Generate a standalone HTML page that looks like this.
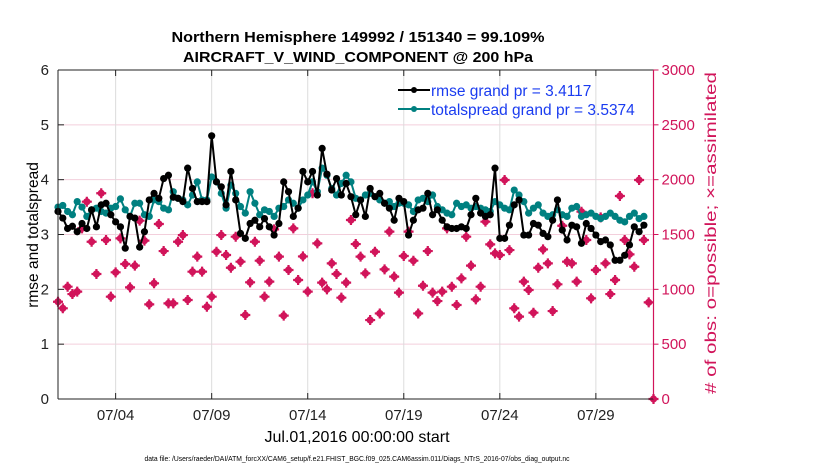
<!DOCTYPE html>
<html><head><meta charset="utf-8"><style>
html,body{margin:0;padding:0;background:#fff;}
svg{display:block;font-family:"Liberation Sans",sans-serif;}
</style></head><body>
<svg id="chart" width="830" height="470" viewBox="0 0 830 470" xmlns="http://www.w3.org/2000/svg">
<text x="358" y="42" text-anchor="middle" font-size="15" font-weight="bold" textLength="373" lengthAdjust="spacingAndGlyphs">Northern Hemisphere 149992 / 151340 = 99.109%</text>
<text x="358" y="62" text-anchor="middle" font-size="15" font-weight="bold" textLength="350" lengthAdjust="spacingAndGlyphs">AIRCRAFT_V_WIND_COMPONENT @ 200 hPa</text>
<g id="grid"></g>
<g id="obs"></g>
<g id="spread"></g>
<g id="rmse"></g>
<g id="axes"></g>
<text transform="translate(38,235) rotate(-90)" text-anchor="middle" font-size="15.5">rmse and totalspread</text>
<text transform="translate(716,233) rotate(-90)" text-anchor="middle" font-size="16" fill="#d1145a" textLength="322" lengthAdjust="spacingAndGlyphs"># of obs: o=possible; ×=assimilated</text>
<text x="357" y="442" text-anchor="middle" font-size="16">Jul.01,2016 00:00:00 start</text>
<text x="357" y="461" text-anchor="middle" font-size="7.2" textLength="425" lengthAdjust="spacingAndGlyphs">data file: /Users/raeder/DAI/ATM_forcXX/CAM6_setup/f.e21.FHIST_BGC.f09_025.CAM6assim.011/Diags_NTrS_2016-07/obs_diag_output.nc</text>
<g>
<line x1="398" y1="90" x2="430" y2="90" stroke="#000" stroke-width="2"/><circle cx="414" cy="90" r="3" fill="#000"/>
<text x="431" y="96" font-size="15.5" fill="#1a3cf0">rmse grand pr = 3.4117</text>
<line x1="398" y1="109" x2="430" y2="109" stroke="#008080" stroke-width="2"/><circle cx="414" cy="109" r="3" fill="#008080"/>
<text x="431" y="115" font-size="15.5" fill="#1a3cf0">totalspread grand pr = 3.5374</text>
</g>
</svg>
<script>
const rmseValues=[3.42,3.3,3.11,3.15,3.05,3.2,3.11,3.45,3.14,3.54,3.57,3.36,3.23,3.14,2.75,3.33,3.3,2.77,3.05,3.63,3.75,3.66,4.02,4.08,3.68,3.66,3.6,4.21,3.84,3.6,3.6,3.6,4.8,
3.96,3.87,3.54,4.15,3.63,3.02,2.93,3.2,3.26,3.14,3.29,3.14,2.99,3.2,3.96,3.78,3.33,3.48,4.15,3.96,4.15,3.72,4.57,4.1,3.81,4.02,3.72,3.93,3.69,
3.36,3.63,3.33,3.84,3.69,3.75,3.57,3.48,3.26,3.66,3.6,2.99,3.26,3.45,3.48,3.75,3.36,3.45,3.26,3.14,3.11,3.11,3.14,3.11,3.36,3.66,3.39,3.33,3.36,4.21,2.93,
2.93,3.17,3.54,3.63,2.99,2.99,3.2,3.17,3.02,2.96,3.26,3.63,3.08,2.9,3.17,3.14,2.84,3.2,3.11,2.99,2.87,2.9,2.81,2.53,2.53,2.62,2.81,3.14,3.05,3.17];
const spreadValues=[3.5,3.53,3.42,3.36,3.6,3.5,3.33,3.45,3.48,3.42,3.39,3.48,3.51,3.65,3.45,3.33,3.57,3.57,3.36,3.33,3.63,3.6,3.48,3.45,3.78,3.66,3.63,3.54,3.72,3.96,3.63,3.63,4.05,
3.96,3.75,3.48,3.9,3.75,3.51,3.39,3.78,3.57,3.36,3.45,3.42,3.33,3.48,3.51,3.63,3.57,3.48,3.63,3.72,3.96,3.78,4.21,4.08,3.84,3.72,3.93,4.08,3.96,
3.66,3.63,3.72,3.75,3.69,3.63,3.57,3.6,3.51,3.57,3.57,3.54,3.42,3.63,3.66,3.6,3.72,3.51,3.45,3.39,3.36,3.57,3.51,3.54,3.48,3.51,3.48,3.45,3.42,3.6,3.54,
3.48,3.45,3.81,3.72,3.6,3.39,3.48,3.54,3.39,3.33,3.36,3.45,3.36,3.33,3.48,3.51,3.33,3.36,3.39,3.33,3.29,3.33,3.39,3.33,3.26,3.23,3.33,3.39,3.29,3.33];
const obsCounts=[887,827,1024,957,979,1556,1799,1434,1140,1876,1450,933,1155,1465,1231,1018,1216,1626,1444,863,1055,1596,1349,872,872,1434,1495,903,1161,1298,1161,
841,933,1343,1495,1313,1197,1480,1252,766,1064,1434,1261,933,1070,1547,1298,760,1176,1556,1085,1300,979,1876,1419,1061,1000,1237,1140,924,1061,1632,1413,
1298,1146,720,1343,780,1182,1526,1116,970,1304,1526,1261,780,1033,1349,970,893,979,1556,1024,857,1100,1480,1216,909,1024,1617,1410,1328,1313,1997,
1358,827,751,1070,994,787,1197,1364,1237,802,1046,1580,1252,1237,1070,1708,1450,918,1176,1656,1237,957,1085,1851,1450,1319,1206,1997,1450,881,0];
const xTickDays=[3,8,13,18,23,28];
const xTickLabels=["07/04","07/09","07/14","07/19","07/24","07/29"];
const yTicksLeft=[0,1,2,3,4,5,6];
const yTicksRight=[0,500,1000,1500,2000,2500,3000];

const NS="http://www.w3.org/2000/svg";
const L=58,R=653.5,T=70,B=399,DAYS=31;
const xDay=d=>L+d*(R-L)/DAYS;
const xIdx=i=>xDay(i*0.25);
const yL=v=>B-v*(B-T)/6;
const yR=v=>B-v*(B-T)/3000;
function mk(tag,attrs,parent){const e=document.createElementNS(NS,tag);for(const k in attrs)e.setAttribute(k,attrs[k]);parent.appendChild(e);return e;}
const grid=document.getElementById('grid'),axes=document.getElementById('axes');
yTicksLeft.forEach(v=>{if(v>0&&v<6){const g=mk('line',{x1:L,x2:R,y1:yL(v),y2:yL(v),stroke:'#f3cfdc','stroke-width':1},grid);

}});
xTickDays.forEach(d=>{const g=mk('line',{x1:xDay(d),x2:xDay(d),y1:T,y2:B,stroke:'#dcdcdc','stroke-width':1},grid);

});
const og=document.getElementById('obs');
obsCounts.forEach((n,i)=>{const x=xIdx(i),y=yR(n);const g=mk('g',{},og);


mk('circle',{cx:x,cy:y,r:3.6,fill:'#d1145a'},g);
mk('path',{d:`M${x-5} ${y}H${x+5}M${x} ${y-5}V${y+5}`,stroke:'#d1145a','stroke-width':2.2},g);});
function series(id,vals,color,name){const g=document.getElementById(id);
const p=mk('polyline',{points:vals.map((v,i)=>xIdx(i)+','+yL(v)).join(' '),fill:'none',stroke:color,'stroke-width':2},g);


vals.forEach((v,i)=>{const c=mk('circle',{cx:xIdx(i),cy:yL(v),r:3.6,fill:color},g);

});}
series('spread',spreadValues,'#008080','totalspread');
series('rmse',rmseValues,'#000000','rmse');
mk('line',{x1:L,x2:R,y1:T,y2:T,stroke:'#222','stroke-width':1},axes);
mk('line',{x1:L,x2:R,y1:B,y2:B,stroke:'#222','stroke-width':1},axes);
mk('line',{x1:L,x2:L,y1:T,y2:B,stroke:'#222','stroke-width':1},axes);
mk('line',{x1:R,x2:R,y1:T,y2:B,stroke:'#d1145a','stroke-width':1.2},axes);
xTickDays.forEach((d,i)=>{const x=xDay(d);
mk('line',{x1:x,x2:x,y1:B,y2:B-6,stroke:'#222'},axes);
mk('line',{x1:x,x2:x,y1:T,y2:T+6,stroke:'#222'},axes);
const t=mk('text',{x:x,y:B+21,'text-anchor':'middle','font-size':15,fill:'#222'},axes);t.textContent=xTickLabels[i];

});
yTicksLeft.forEach(v=>{const y=yL(v);
mk('line',{x1:L,x2:L+6,y1:y,y2:y,stroke:'#222'},axes);
const t=mk('text',{x:L-9,y:y+5,'text-anchor':'end','font-size':15,fill:'#222'},axes);t.textContent=v;

});
yTicksRight.forEach(v=>{const y=yR(v);
mk('line',{x1:R,x2:R+5,y1:y,y2:y,stroke:'#d1145a'},axes);
const t=mk('text',{x:R+8,y:y+5,'text-anchor':'start','font-size':15,fill:'#d1145a'},axes);t.textContent=v;

});
</script>
</body></html>
